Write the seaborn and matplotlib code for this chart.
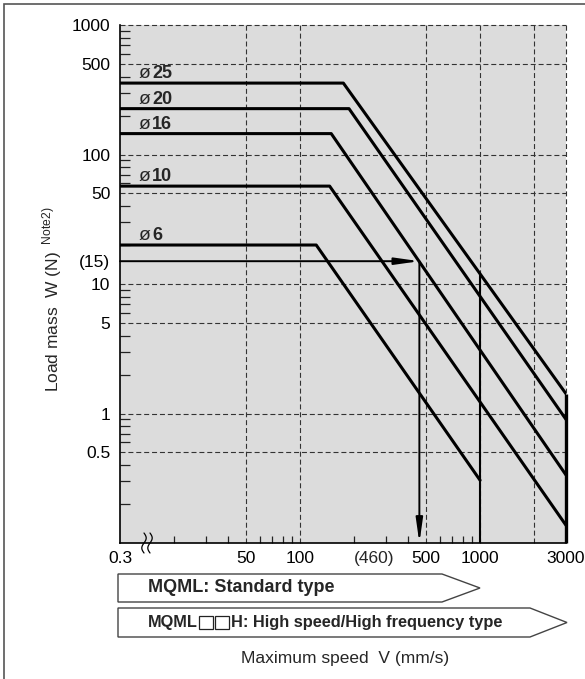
import numpy as np
import pandas as pd
import seaborn as sns
import matplotlib.pyplot as plt
from matplotlib.patches import Polygon, Rectangle
from matplotlib.lines import Line2D
from matplotlib.ticker import FixedLocator, LogLocator, NullFormatter

# Curve data (speed in mm/s, load in N)
bores = ['25', '20', '16', '10', '6']
flat_load = [356, 226, 145, 57, 20]
corner_speed = [174, 187, 149, 146, 123]
end_speed = [3000, 3000, 3000, 3000, 1000]
end_load = [1.42, 0.9, 0.335, 0.137, 0.305]

x_min, x_max = 10, 3000
y_min, y_max = 0.1, 1000
x_ticks = [10, 50, 100, 500, 1000, 3000]
x_labels = ['0.3', '50', '100', '500', '1000', '3000']
x_grid = [50, 100, 500, 1000, 2000, 3000]
x_minor = [20, 30, 40, 60, 70, 80, 90, 200, 300, 400, 600, 700, 800, 900]
y_ticks = [0.5, 1, 5, 10, 15, 50, 100, 500, 1000]
y_labels = ['0.5', '1', '5', '10', '(15)', '50', '100', '500', '1000']
y_grid = [0.5, 1, 5, 10, 50, 100, 500, 1000]

# Example reading: 460 mm/s -> 15 N, and the 1000 mm/s limit line
example_speed, example_load = 460, 15
limit_speed, limit_load = 1000, 12.2

rows = []
for b, fl, cs, es, el in zip(bores, flat_load, corner_speed, end_speed, end_load):
    rows += [(b, x_min, fl), (b, cs, fl), (b, es, el)]
df = pd.DataFrame(rows, columns=['bore', 'speed', 'load'])

sns.set_theme(style='white')
plt.rcParams['font.family'] = ['Liberation Sans', 'DejaVu Sans']
plt.rcParams['mathtext.fontset'] = 'custom'
plt.rcParams['mathtext.rm'] = 'Liberation Sans'

W, H = 585, 679
fig = plt.figure(figsize=(W / 100, H / 100), dpi=100)
ax = fig.add_axes([120 / W, 1 - 543 / H, 446 / W, 518 / H])
ax.set_facecolor('#dcdcdc')

def px(x, y):
    return (x / W, 1 - y / H)

# dashed grid
dash = (0, (4.5, 2.6))
for v in x_grid:
    ax.axvline(v, color='#333333', lw=0.8, ls=dash, zorder=1, clip_on=False)
for v in y_grid:
    ax.axhline(v, color='#333333', lw=0.8, ls=dash, zorder=1, clip_on=False)

sns.lineplot(data=df, x='speed', y='load', hue='bore', palette=['black'] * 5,
             estimator=None, sort=False, legend=False, lw=2.2, ax=ax, zorder=3)

ax.set_xscale('log')
ax.set_yscale('log')
ax.set_xlim(x_min, x_max)
ax.set_ylim(y_min, y_max)

# limit lines
ax.plot([end_speed[0], end_speed[0]], [y_min, end_load[0]], color='black', lw=2.4, zorder=3,
        clip_on=False, solid_capstyle='butt')
ax.plot([limit_speed, limit_speed], [y_min, limit_load], color='black', lw=1.5, zorder=3)

# example arrows
arrow = dict(arrowstyle='-|>,head_length=1.2,head_width=0.17', color='black', lw=1.4,
             shrinkA=0, shrinkB=0)
ax.annotate('', xy=(example_speed, example_load), xytext=(x_min, example_load),
            arrowprops=arrow, zorder=4)
ax.annotate('', xy=(example_speed, y_min), xytext=(example_speed, example_load),
            arrowprops=arrow, zorder=4)

# bore labels
for b, fl in zip(bores, flat_load):
    ax.annotate('ø', xy=(x_min, fl), xytext=(19, 5), textcoords='offset pixels',
                va='baseline', ha='left', fontsize=14)
    ax.annotate(b, xy=(x_min, fl), xytext=(32, 5), textcoords='offset pixels',
                va='baseline', ha='left', fontsize=13, fontweight='bold')

# ticks
ax.set_xticks(x_ticks, x_labels)
ax.xaxis.set_minor_locator(FixedLocator(x_minor))
ax.xaxis.set_minor_formatter(NullFormatter())
ax.set_yticks(y_ticks, y_labels)
ax.yaxis.set_minor_locator(LogLocator(base=10, subs=(2, 3, 4, 6, 7, 8, 9)))
ax.yaxis.set_minor_formatter(NullFormatter())
ax.tick_params(axis='both', which='major', length=0, labelsize=12.5, colors='black')
ax.tick_params(axis='x', which='major', pad=6)
ax.tick_params(axis='y', which='major', pad=7)
ax.tick_params(axis='x', which='minor', direction='in', length=5, width=0.9,
               color='#222222', bottom=True)
ax.tick_params(axis='y', which='minor', direction='in', length=7, width=0.9,
               color='#222222', left=True)
ax.annotate('(460)', xy=(example_speed, 0), xycoords=('data', 'axes fraction'),
            xytext=(-45, -8), textcoords='offset pixels', ha='center', va='top',
            fontsize=12.5)

for s in ['top', 'right']:
    ax.spines[s].set_visible(False)
for s in ['left', 'bottom']:
    ax.spines[s].set_color('black')
    ax.spines[s].set_linewidth(1.2)

ax.set_xlabel('')
ax.set_ylabel(r'Load mass  W (N)$\;\,^{\mathrm{Note2)}}$', fontsize=12.5)
ax.yaxis.set_label_coords(-0.125, 0.47)
fig.text(*px(345, 658), 'Maximum speed  V (mm/s)', ha='center', va='center', fontsize=12.5)

# axis break marks
t = np.linspace(0, 1, 30)
for x0 in (144, 150):
    xs = x0 + 2.2 * np.sin(2 * np.pi * t)
    ys = 533 + 20 * t
    fig.add_artist(Line2D(xs / W, 1 - ys / H, color='black', lw=0.9))

# type boxes (None = the two empty squares of the model code)
boxes = [(574, 602, 442, 480, [('MQML: Standard type', 13)]),
         (608, 637, 530, 567, [('MQML', 11.8), None,
                               ('H: High speed/High frequency type', 11.8)])]
renderer = fig.canvas.get_renderer()
for top, bot, rx, tip, parts in boxes:
    mid = (top + bot) / 2
    pts = [px(118, top), px(rx, top), px(tip, mid), px(rx, bot), px(118, bot)]
    fig.add_artist(Polygon(pts, closed=True, fc='white', ec='#444444', lw=1.0,
                           transform=fig.transFigure))
    x = 148
    for part in parts:
        if part is None:
            for k in range(2):
                x0 = x + 1 + 16 * k
                fig.add_artist(Rectangle(px(x0, mid + 6), 14 / W, 12.5 / H, fill=False,
                                         ec='#222222', lw=0.9, transform=fig.transFigure))
            x += 33
        else:
            label, size = part
            txt = fig.text(*px(x, mid), label, ha='left', va='center',
                           fontsize=size, fontweight='bold')
            x += txt.get_window_extent(renderer).width

# outer frame
fig.add_artist(Rectangle((4 / W, -0.05), 1.2, 1.05 - 4 / H, fill=False, ec='#555555',
                         lw=1.2, transform=fig.transFigure))

fig.savefig('out.png', dpi=100)
